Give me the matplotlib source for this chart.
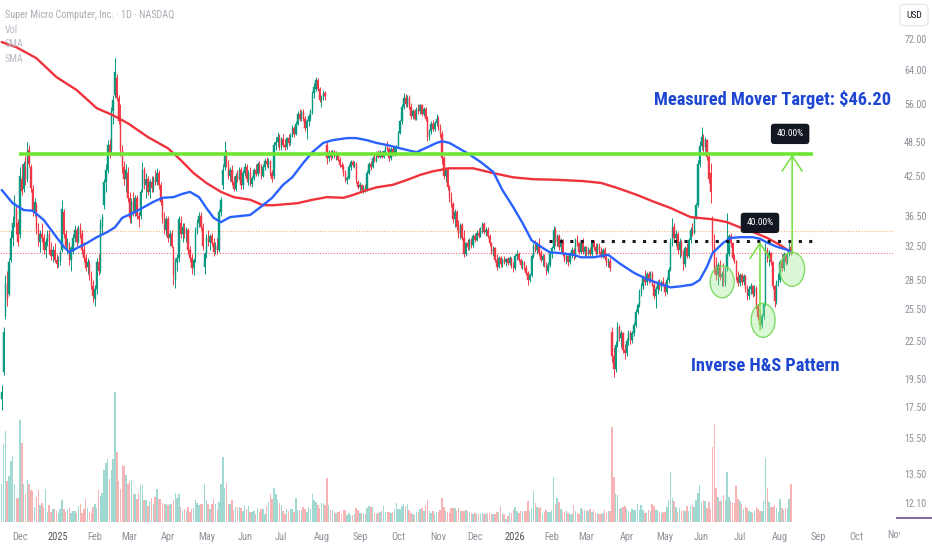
import numpy as np
import matplotlib
matplotlib.use("Agg")
import matplotlib.pyplot as plt
from matplotlib import font_manager as fm
from matplotlib.patches import Ellipse, Rectangle
from matplotlib.lines import Line2D
from matplotlib.ticker import NullLocator, NullFormatter
from matplotlib.transforms import ScaledTranslation


def pick_font(names):
    for n in names:
        try:
            fm.findfont(fm.FontProperties(family=n), fallback_to_default=False)
            return n
        except Exception:
            pass
    return "DejaVu Sans"


NARROW = pick_font(["Liberation Sans Narrow", "Roboto Condensed", "Open Sans Condensed", "Liberation Sans"])
plt.rcParams["font.family"] = [NARROW, "DejaVu Sans"]

# ---- daily candles (one per trading day, left to right) ----
opens = [
    18.0, 20.0, 24.8, 28.0, 27.0, 30.8, 33.5, 36.0, 37.5, 35.5,
    34.0, 42.0, 40.5, 44.0, 42.0, 47.0, 44.0, 40.5, 37.0, 38.0,
    34.5, 33.0, 34.0, 33.5, 32.0, 33.0, 34.0, 32.0, 31.2, 32.0,
    30.8, 30.5, 30.6, 32.0, 37.0, 34.0, 32.5, 32.5, 30.8, 32.0,
    33.5, 34.5, 33.0, 34.8, 34.0, 32.0, 31.0, 30.0, 30.3, 28.8,
    27.8, 26.5, 27.5, 30.5, 29.5, 35.0, 38.0, 41.5, 43.5, 48.0,
    47.0, 54.5, 58.0, 62.0, 57.5, 53.0, 47.0, 44.0, 42.0, 43.0,
    39.0, 36.5, 38.5, 37.0, 39.0, 36.5, 36.5, 40.5, 43.5, 41.0,
    42.0, 40.0, 41.5, 40.5, 42.0, 41.5, 43.0, 41.0, 38.5, 36.0,
    34.5, 36.0, 33.5, 34.0, 32.0, 28.5, 30.5, 31.0, 35.5, 34.0,
    35.0, 34.0, 34.5, 32.0, 31.0, 29.8, 31.0, 34.5, 35.5, 36.5,
    35.0, 30.0, 31.5, 33.5, 33.0, 33.8, 32.8, 32.0, 32.5, 32.0,
    37.0, 41.0, 44.0, 46.5, 44.5, 42.5, 43.5, 41.5, 40.5, 42.5,
    42.0, 43.5, 41.0, 43.0, 44.0, 42.0, 43.0, 41.3, 42.2, 43.5,
    42.8, 44.5, 43.5, 42.5, 44.0, 45.0, 44.5, 45.0, 43.0, 42.5,
    48.0, 48.5, 49.5, 47.5, 49.0, 48.0, 47.5, 49.2, 48.3, 49.8,
    51.2, 50.0, 52.0, 54.0, 53.0, 54.3, 53.0, 51.2, 52.5, 53.0,
    54.5, 58.5, 59.5, 61.5, 59.5, 57.0, 57.5, 58.5, 48.0, 45.5,
    46.5, 45.8, 46.8, 46.0, 46.3, 45.3, 44.3, 44.0, 43.0, 41.8,
    42.2, 44.0, 44.8, 44.3, 44.6, 41.5, 40.8, 41.0, 40.3, 40.7,
    40.5, 43.0, 44.5, 44.0, 45.5, 45.0, 46.3, 45.8, 46.6, 45.8,
    46.8, 47.5, 47.2, 45.5, 47.2, 46.3, 47.3, 47.8, 50.2, 52.5,
    55.5, 57.5, 56.0, 57.5, 55.5, 53.5, 54.5, 53.0, 55.0, 54.5,
    55.8, 54.0, 55.0, 53.0, 49.5, 50.5, 52.0, 51.0, 52.2, 53.0,
    51.2, 50.0, 45.5, 42.5, 43.5, 40.8, 39.0, 38.2, 36.0, 37.0,
    35.0, 34.0, 35.2, 33.5, 31.5, 32.8, 32.3, 33.2, 32.6, 33.8,
    33.3, 34.2, 33.8, 34.8, 35.3, 34.3, 34.6, 33.8, 32.8, 31.8,
    32.2, 30.8, 30.0, 31.0, 30.3, 30.8, 30.5, 30.9, 30.4, 31.0,
    30.0, 29.8, 31.2, 31.5, 30.8, 30.2, 30.5, 29.9, 29.3, 28.5,
    29.0, 31.2, 32.5, 32.0, 32.7, 31.6, 30.8, 31.3, 30.3, 29.5,
    30.2, 31.5, 32.2, 34.5, 33.0, 33.7, 32.3, 33.2, 31.5, 30.8,
    31.2, 30.5, 31.5, 32.0, 31.2, 33.2, 32.8, 31.8, 32.9, 31.8,
    32.3, 31.6, 32.0, 31.5, 32.8, 32.3, 31.7, 32.5, 31.8, 31.3,
    32.0, 31.0, 30.4, 30.7, 23.3, 21.3, 20.2, 22.2, 23.8, 22.8,
    23.2, 21.8, 21.5, 22.5, 23.2, 22.6, 23.2, 24.0, 25.2, 25.9,
    27.2, 27.8, 28.7, 28.3, 29.2, 28.5, 29.3, 28.0, 26.8, 27.5,
    28.2, 27.7, 28.3, 28.0, 27.2, 28.5, 29.6, 33.0, 35.0, 33.5,
    34.0, 32.0, 33.0, 31.5, 30.3, 32.2, 31.3, 33.2, 34.6, 34.2,
    36.2, 38.0, 44.5, 47.8, 49.0, 47.5, 48.8, 45.8, 43.0, 36.0,
    32.5, 30.0, 29.0, 30.2, 28.8, 29.2, 28.2, 29.8, 31.5, 33.8,
    32.8, 31.0, 30.6, 28.8, 28.2, 29.0, 28.3, 28.9, 27.5, 26.8,
    27.5, 27.8, 27.0, 27.6, 25.8, 24.7, 24.0, 24.8, 26.0, 32.0,
    31.0, 31.6, 30.5, 27.8, 26.3, 28.2, 28.5, 30.5, 29.8, 31.5,
    30.5, 31.5, 32.4,
]
highs = [
    19.0, 23.8, 29.0, 29.5, 31.0, 34.5, 36.5, 39.5, 38.0, 36.0,
    44.0, 44.5, 45.0, 46.0, 48.5, 48.0, 44.5, 41.0, 39.0, 38.5,
    35.5, 34.5, 35.5, 34.0, 33.5, 34.5, 34.5, 33.0, 32.5, 32.8,
    31.5, 31.2, 32.0, 38.8, 37.5, 34.5, 33.5, 33.0, 32.5, 34.0,
    35.2, 35.0, 35.2, 35.5, 34.5, 33.0, 31.5, 31.0, 30.8, 29.5,
    28.5, 28.0, 31.0, 31.5, 36.0, 36.8, 42.0, 44.5, 48.8, 49.0,
    55.5, 58.0, 66.9, 63.0, 58.0, 56.0, 48.0, 45.0, 44.5, 44.0,
    40.0, 39.0, 40.0, 39.5, 39.5, 37.0, 40.5, 44.8, 44.0, 43.0,
    42.5, 42.0, 42.5, 42.5, 43.5, 43.8, 43.5, 41.5, 39.0, 37.0,
    36.5, 36.5, 34.5, 34.5, 32.5, 31.0, 31.5, 36.5, 36.5, 35.5,
    35.5, 35.0, 34.8, 32.5, 31.5, 31.0, 35.0, 36.0, 37.0, 37.0,
    35.5, 31.8, 34.0, 34.5, 34.0, 34.2, 33.5, 33.0, 33.5, 37.5,
    39.2, 44.5, 48.6, 47.0, 45.2, 44.0, 44.4, 42.5, 43.0, 43.5,
    44.0, 44.0, 43.5, 44.7, 44.5, 43.5, 44.0, 42.5, 43.8, 44.5,
    44.8, 45.0, 44.5, 44.5, 45.5, 45.8, 45.5, 45.3, 43.5, 48.5,
    49.5, 50.3, 50.0, 49.5, 50.0, 49.0, 49.5, 50.0, 50.2, 51.8,
    51.5, 52.5, 54.5, 55.0, 54.8, 55.0, 53.5, 53.0, 54.0, 55.0,
    59.0, 60.7, 62.3, 62.0, 60.0, 58.0, 59.2, 59.0, 48.5, 47.0,
    47.0, 47.0, 47.0, 46.8, 46.5, 45.8, 44.8, 44.5, 43.5, 42.5,
    44.5, 45.2, 45.2, 45.0, 44.8, 41.8, 41.5, 41.3, 41.0, 41.2,
    43.5, 44.8, 45.0, 46.0, 46.5, 46.8, 47.0, 47.0, 46.9, 47.0,
    48.0, 48.6, 47.5, 47.5, 47.5, 47.5, 48.0, 50.5, 52.7, 56.0,
    58.6, 58.2, 58.0, 58.0, 56.4, 55.0, 55.0, 55.5, 56.0, 56.1,
    56.0, 55.5, 55.5, 53.5, 51.0, 52.5, 52.7, 52.5, 53.9, 53.5,
    52.0, 50.5, 46.0, 44.0, 44.0, 41.0, 40.0, 38.5, 37.5, 37.3,
    35.9, 35.5, 35.5, 34.5, 33.0, 33.4, 33.5, 33.5, 34.0, 34.2,
    34.5, 34.8, 35.0, 35.6, 35.6, 35.0, 35.0, 34.0, 33.0, 32.5,
    32.4, 31.5, 31.2, 31.3, 31.0, 31.3, 31.0, 31.1, 31.2, 31.1,
    30.5, 31.5, 32.0, 31.8, 31.0, 30.8, 30.7, 30.2, 29.5, 29.3,
    31.5, 32.8, 33.2, 33.0, 33.5, 32.0, 31.5, 31.5, 30.5, 30.5,
    31.8, 32.5, 35.1, 35.0, 34.0, 34.0, 33.5, 33.4, 31.8, 31.5,
    31.4, 31.8, 32.3, 32.2, 33.5, 33.9, 33.0, 33.2, 33.5, 32.5,
    32.5, 32.3, 32.3, 33.0, 33.2, 32.8, 32.8, 32.8, 32.3, 32.2,
    32.3, 31.5, 31.0, 31.0, 23.8, 22.0, 22.5, 24.2, 24.0, 23.5,
    23.3, 22.3, 22.8, 23.5, 23.5, 23.4, 24.2, 25.5, 26.1, 27.5,
    28.2, 29.0, 29.6, 29.4, 29.5, 29.5, 29.5, 28.3, 27.8, 28.5,
    28.6, 28.5, 28.8, 28.3, 28.8, 30.0, 33.5, 36.2, 35.5, 34.5,
    34.3, 33.5, 33.3, 32.0, 32.5, 32.8, 33.5, 35.0, 35.5, 36.5,
    38.3, 45.2, 48.6, 51.4, 50.0, 49.4, 49.0, 46.2, 44.7, 36.5,
    34.0, 31.1, 30.5, 30.8, 29.5, 30.4, 30.0, 36.9, 34.0, 34.2,
    33.0, 31.5, 30.8, 29.5, 29.3, 29.3, 29.2, 29.0, 28.0, 27.8,
    28.2, 28.0, 28.0, 27.8, 26.0, 25.4, 25.0, 26.2, 32.8, 32.4,
    32.0, 31.8, 30.6, 28.0, 28.5, 29.3, 30.8, 31.5, 31.8, 31.6,
    31.8, 33.0, 32.8,
]
lows = [
    17.3, 19.8, 24.5, 25.8, 26.8, 30.5, 32.5, 35.0, 34.0, 32.5,
    33.5, 39.5, 40.0, 41.0, 41.5, 44.0, 40.0, 36.5, 36.5, 34.0,
    32.5, 31.8, 33.0, 31.5, 31.0, 32.5, 31.5, 30.8, 30.5, 30.5,
    29.8, 30.0, 30.2, 31.8, 33.5, 32.0, 31.5, 30.2, 29.5, 31.5,
    33.0, 32.5, 32.8, 33.5, 31.5, 30.5, 29.5, 29.2, 28.5, 27.5,
    26.2, 25.8, 27.0, 29.0, 29.3, 34.0, 37.5, 40.0, 43.0, 45.5,
    46.5, 52.0, 57.5, 56.8, 52.0, 46.0, 43.0, 41.0, 40.0, 38.5,
    35.5, 35.5, 36.5, 36.5, 36.0, 35.0, 36.0, 40.0, 40.5, 39.0,
    39.5, 39.0, 40.0, 40.0, 41.0, 41.0, 40.5, 38.0, 35.5, 34.0,
    33.8, 33.0, 32.5, 32.2, 28.0, 27.6, 29.5, 30.5, 33.5, 33.0,
    33.5, 33.0, 31.5, 30.5, 29.2, 29.0, 30.5, 34.0, 35.0, 34.5,
    32.0, 29.2, 31.0, 32.5, 32.0, 32.5, 31.3, 31.5, 31.5, 31.8,
    36.5, 40.5, 43.5, 44.0, 42.0, 41.7, 41.0, 40.1, 40.2, 41.5,
    41.8, 40.5, 40.5, 42.5, 41.5, 41.0, 40.9, 40.8, 41.8, 42.5,
    42.5, 43.0, 42.0, 42.3, 43.5, 44.0, 43.8, 42.5, 41.5, 42.0,
    47.0, 47.5, 47.0, 47.0, 47.5, 47.0, 47.2, 47.8, 48.0, 49.5,
    49.5, 49.8, 51.8, 52.5, 52.5, 52.5, 50.5, 49.0, 51.5, 52.5,
    54.0, 57.5, 59.0, 59.0, 56.5, 55.5, 57.0, 57.0, 44.5, 45.0,
    45.2, 45.5, 45.5, 45.3, 45.0, 44.0, 43.6, 42.5, 41.5, 41.2,
    42.0, 43.5, 44.0, 43.8, 41.4, 40.5, 40.0, 40.0, 39.9, 40.0,
    40.2, 42.8, 43.5, 43.8, 44.8, 44.8, 45.5, 45.5, 45.5, 45.6,
    46.5, 46.8, 45.0, 45.2, 46.0, 46.0, 46.5, 47.5, 50.0, 52.0,
    55.0, 55.5, 55.5, 55.0, 53.0, 53.0, 52.7, 52.8, 54.0, 54.0,
    53.5, 53.5, 52.5, 48.6, 48.8, 50.0, 50.5, 50.5, 51.5, 50.8,
    49.5, 44.5, 42.0, 41.5, 40.3, 38.5, 37.7, 35.5, 35.0, 34.5,
    33.5, 33.4, 33.2, 31.1, 31.2, 32.0, 32.0, 32.2, 32.4, 33.0,
    33.1, 33.5, 33.6, 34.2, 34.0, 33.8, 33.5, 32.5, 31.5, 31.3,
    30.5, 29.6, 29.8, 30.0, 30.0, 30.3, 30.1, 30.2, 30.2, 29.8,
    29.4, 29.6, 30.8, 30.5, 29.8, 29.7, 29.6, 29.0, 28.0, 28.3,
    28.8, 31.0, 31.8, 31.5, 31.3, 30.5, 30.1, 30.0, 29.1, 29.3,
    30.0, 31.0, 32.0, 32.5, 32.5, 32.0, 31.8, 31.3, 30.5, 30.3,
    30.1, 30.3, 31.0, 30.8, 31.0, 32.5, 31.5, 31.5, 31.5, 31.3,
    31.3, 31.4, 31.3, 31.3, 32.0, 31.4, 31.5, 31.5, 31.0, 31.0,
    30.8, 30.1, 30.0, 29.5, 20.8, 19.6, 20.0, 22.0, 22.5, 22.0,
    21.5, 21.0, 21.3, 22.2, 22.3, 22.4, 23.0, 23.8, 25.0, 25.7,
    26.8, 27.5, 28.0, 28.0, 28.2, 28.3, 27.8, 26.5, 25.6, 27.0,
    27.4, 27.3, 27.8, 26.8, 27.0, 28.2, 29.5, 32.5, 33.0, 32.5,
    31.5, 31.0, 31.2, 29.6, 30.0, 31.0, 31.0, 32.8, 33.8, 34.0,
    36.0, 37.8, 44.0, 47.0, 46.5, 46.8, 45.2, 41.4, 38.3, 31.5,
    29.3, 28.5, 28.0, 28.5, 27.9, 27.8, 27.8, 29.5, 31.2, 32.4,
    30.8, 30.4, 28.5, 27.8, 27.8, 28.0, 28.0, 27.2, 26.4, 26.5,
    27.0, 26.7, 26.8, 25.5, 24.4, 23.6, 23.7, 24.5, 25.8, 30.5,
    30.1, 30.2, 27.5, 25.7, 26.0, 27.8, 28.3, 29.5, 29.5, 30.2,
    30.3, 31.2, 31.4,
]
closes = [
    18.5, 23.3, 28.2, 26.5, 30.5, 33.5, 35.5, 38.5, 35.0, 33.0,
    42.5, 40.2, 44.5, 41.8, 46.8, 44.6, 40.6, 37.2, 38.5, 34.6,
    33.2, 34.0, 33.5, 32.0, 33.0, 34.0, 31.8, 31.2, 32.0, 30.8,
    30.3, 30.6, 31.8, 37.5, 34.0, 32.5, 33.0, 30.8, 32.2, 33.5,
    34.5, 33.0, 34.8, 34.0, 32.0, 31.0, 29.8, 30.5, 28.8, 27.8,
    26.8, 27.5, 30.5, 29.5, 35.5, 36.3, 41.5, 43.5, 48.0, 46.5,
    54.5, 57.0, 63.5, 57.5, 52.5, 47.0, 44.0, 42.0, 43.5, 39.0,
    36.2, 38.5, 37.0, 39.0, 36.5, 36.0, 40.0, 43.5, 41.2, 42.0,
    40.0, 41.5, 40.6, 42.0, 41.5, 43.0, 41.0, 38.5, 36.0, 34.5,
    36.0, 33.5, 34.0, 32.5, 29.0, 30.5, 31.0, 36.0, 34.0, 35.0,
    34.0, 34.5, 32.0, 31.0, 29.8, 30.8, 34.5, 35.5, 36.5, 35.0,
    32.5, 31.5, 33.5, 33.0, 33.8, 32.8, 31.8, 32.5, 32.0, 37.0,
    38.8, 43.5, 46.5, 44.5, 42.5, 43.5, 41.5, 40.5, 42.5, 42.0,
    43.5, 41.0, 43.0, 44.0, 42.0, 43.0, 41.3, 42.2, 43.5, 42.8,
    44.5, 43.5, 42.5, 44.0, 45.0, 44.5, 45.0, 43.0, 42.0, 48.0,
    48.5, 49.5, 47.5, 49.0, 48.0, 47.5, 49.2, 48.3, 49.8, 51.2,
    50.0, 52.0, 54.0, 53.0, 54.3, 53.0, 51.2, 52.5, 53.5, 54.5,
    58.5, 60.0, 61.5, 59.5, 57.0, 57.5, 58.5, 57.8, 45.5, 46.5,
    45.8, 46.8, 46.0, 46.3, 45.3, 44.3, 44.0, 43.0, 41.8, 42.2,
    44.0, 44.8, 44.3, 44.6, 41.8, 40.8, 41.0, 40.3, 40.7, 40.5,
    43.0, 44.5, 44.0, 45.5, 45.0, 46.3, 45.8, 46.6, 45.8, 46.8,
    47.5, 47.2, 45.5, 47.2, 46.3, 47.3, 47.8, 50.2, 52.5, 55.5,
    57.5, 56.0, 57.5, 55.5, 53.5, 54.5, 53.0, 55.0, 54.5, 55.8,
    54.0, 55.0, 53.0, 49.5, 50.5, 52.0, 51.0, 52.2, 53.0, 51.2,
    50.0, 45.5, 42.5, 43.5, 40.8, 39.0, 38.2, 36.0, 37.0, 35.0,
    34.0, 35.2, 33.5, 31.5, 32.8, 32.3, 33.2, 32.6, 33.8, 33.3,
    34.2, 33.8, 34.8, 35.3, 34.3, 34.6, 33.8, 32.8, 31.8, 32.2,
    30.8, 30.0, 31.0, 30.3, 30.8, 30.5, 30.9, 30.4, 31.0, 30.0,
    29.8, 31.2, 31.5, 30.8, 30.2, 30.5, 29.9, 29.3, 28.5, 29.0,
    31.2, 32.5, 32.0, 32.7, 31.6, 30.8, 31.3, 30.3, 29.5, 30.2,
    31.5, 32.2, 34.5, 33.0, 33.7, 32.3, 33.2, 31.5, 30.8, 31.2,
    30.5, 31.5, 32.0, 31.2, 33.2, 32.8, 31.8, 32.9, 31.8, 32.3,
    31.6, 32.0, 31.5, 32.8, 32.3, 31.7, 32.5, 31.8, 31.3, 32.0,
    31.0, 30.4, 30.7, 29.8, 21.3, 20.2, 22.2, 23.8, 22.8, 23.2,
    21.8, 21.5, 22.5, 23.2, 22.6, 23.2, 24.0, 25.2, 25.9, 27.2,
    27.8, 28.7, 28.3, 29.2, 28.5, 29.3, 28.0, 26.8, 27.5, 28.2,
    27.7, 28.3, 28.0, 27.2, 28.5, 29.6, 33.0, 35.0, 33.5, 34.0,
    32.0, 33.0, 31.5, 30.3, 32.2, 31.3, 33.2, 34.6, 34.2, 36.2,
    38.0, 44.5, 47.8, 49.5, 47.5, 48.8, 45.8, 42.0, 40.0, 32.5,
    30.0, 29.0, 30.2, 28.8, 29.2, 28.2, 29.8, 31.5, 33.8, 32.8,
    31.0, 30.6, 28.8, 28.2, 29.0, 28.3, 28.9, 27.5, 26.8, 27.5,
    27.8, 27.0, 27.6, 25.8, 24.7, 24.0, 24.8, 26.0, 32.0, 31.0,
    31.6, 30.5, 27.8, 26.3, 28.2, 28.5, 30.5, 29.8, 31.5, 30.5,
    31.5, 32.4, 31.65,
]
volume_m = [
    38, 78, 91, 41, 46, 61, 66, 38, 24, 24,
    102, 79, 38, 28, 42, 38, 32, 31, 15, 25,
    32, 17, 19, 15, 33, 10, 17, 10, 13, 13,
    11, 9, 13, 22, 13, 10, 12, 14, 9, 11,
    11, 9, 16, 18, 9, 13, 23, 14, 10, 9,
    15, 18, 14, 32, 26, 29, 52, 59, 63, 43,
    52, 63, 130, 70, 41, 33, 57, 56, 47, 38,
    41, 42, 28, 28, 23, 29, 37, 36, 22, 22,
    16, 21, 24, 18, 25, 33, 23, 23, 19, 18,
    18, 17, 18, 18, 22, 29, 24, 28, 15, 11,
    13, 11, 15, 10, 13, 14, 22, 19, 17, 18,
    18, 38, 22, 18, 13, 18, 23, 18, 12, 20,
    38, 65, 34, 39, 18, 18, 22, 12, 15, 15,
    15, 14, 11, 17, 13, 16, 10, 10, 11, 8,
    14, 10, 13, 13, 8, 16, 20, 28, 23, 34,
    28, 22, 19, 17, 11, 8, 13, 11, 13, 13,
    10, 24, 12, 12, 12, 15, 13, 10, 15, 13,
    28, 22, 20, 17, 14, 19, 19, 17, 44, 17,
    12, 12, 10, 9, 10, 11, 8, 12, 12, 7,
    9, 7, 7, 8, 14, 12, 9, 9, 9, 8,
    14, 16, 15, 15, 9, 8, 9, 10, 11, 16,
    10, 10, 10, 9, 10, 13, 19, 13, 13, 16,
    18, 16, 18, 12, 9, 8, 7, 10, 10, 13,
    14, 11, 16, 22, 11, 9, 11, 8, 10, 10,
    12, 24, 15, 11, 10, 9, 14, 14, 14, 11,
    14, 11, 11, 11, 12, 11, 10, 9, 8, 9,
    8, 8, 8, 9, 8, 8, 9, 9, 8, 8,
    8, 10, 10, 16, 8, 8, 3, 6, 9, 9,
    12, 15, 11, 9, 11, 11, 11, 11, 21, 11,
    14, 31, 19, 15, 14, 15, 8, 10, 12, 10,
    10, 12, 45, 18, 24, 20, 13, 11, 10, 11,
    9, 8, 8, 17, 11, 9, 8, 14, 12, 12,
    12, 11, 13, 10, 12, 9, 9, 8, 8, 9,
    12, 9, 11, 11, 95, 45, 28, 27, 13, 14,
    15, 16, 13, 11, 10, 13, 12, 12, 18, 12,
    17, 12, 9, 9, 12, 11, 18, 16, 12, 12,
    10, 9, 10, 10, 15, 22, 50, 24, 21, 15,
    10, 14, 11, 12, 11, 16, 11, 16, 17, 15,
    22, 29, 37, 20, 22, 21, 14, 20, 13, 75,
    98, 34, 25, 21, 22, 27, 22, 50, 25, 21,
    19, 19, 36, 23, 21, 18, 13, 16, 14, 11,
    10, 9, 11, 15, 13, 11, 11, 21, 64, 34,
    20, 15, 15, 17, 14, 10, 23, 14, 12, 14,
    14, 23, 38,
]

# ---- moving averages (bar index, price) ----
sma50_idx = [0, 6, 12, 17, 23, 26, 30, 34, 37, 41, 47, 52, 58, 62, 66, 72, 77, 83, 88, 94,
             99, 103, 108, 112, 116, 120, 125, 136, 143, 148, 154, 159, 165, 170, 176, 181,
             189, 194, 200, 205, 211, 218, 227, 233, 238, 241, 245, 255, 262, 269, 274, 280,
             285, 290, 295, 300, 306, 313, 317, 324, 332, 338, 346, 353, 360, 366, 371, 378,
             382, 386, 389, 395, 399, 404, 411, 415, 419, 424, 430, 432]
sma50_val = [40.3, 38.3, 37.3, 37.2, 35.9, 34.9, 33.6, 32.4, 31.7, 32.2, 32.9, 33.6, 34.3, 34.9,
             36.2, 36.9, 37.6, 38.5, 39.1, 39.2, 39.7, 40.0, 39.2, 37.6, 36.2, 35.6, 36.3, 36.6,
             38.0, 39.1, 41.1, 42.3, 44.7, 46.6, 48.3, 48.8, 49.2, 49.2, 48.8, 48.3, 47.9, 47.3,
             46.6, 47.5, 48.3, 48.6, 48.3, 46.4, 44.9, 43.2, 40.3, 37.7, 35.5, 33.2, 32.4, 31.7,
             31.6, 31.4, 31.1, 31.1, 31.4, 30.4, 29.3, 28.6, 28.1, 27.7, 27.8, 28.0, 28.5, 30.0,
             31.6, 32.9, 33.5, 33.6, 33.6, 33.4, 32.9, 32.4, 32.0, 31.7]
sma200_idx = [0, 8, 19, 30, 41, 52, 61, 69, 80, 91, 98, 105, 112, 120, 127, 136, 143, 149, 162,
              170, 178, 187, 192, 198, 205, 214, 222, 229, 236, 245, 251, 258, 269, 280, 291,
              304, 318, 328, 337, 348, 357, 366, 377, 389, 397, 404, 411, 419, 426, 432]
sma200_val = [71.2, 69.8, 66.9, 62.2, 59.2, 55.2, 53.7, 52.1, 49.4, 47.3, 45.2, 43.0, 41.4, 40.0,
              39.2, 38.8, 38.0, 38.0, 38.3, 38.8, 39.2, 39.1, 39.5, 40.1, 40.7, 41.1, 41.9, 42.7,
              43.3, 43.8, 43.8, 43.8, 43.0, 42.3, 42.0, 41.9, 41.7, 41.4, 40.6, 39.5, 38.5, 37.6,
              36.3, 36.0, 35.6, 34.9, 34.3, 33.5, 32.6, 31.7]

# ---- axis labels ----
month_labels = ["Dec", "2025", "Feb", "Mar", "Apr", "May", "Jun", "Jul", "Aug", "Sep", "Oct", "Nov",
                "Dec", "2026", "Feb", "Mar", "Apr", "May", "Jun", "Jul", "Aug", "Sep", "Oct"]
month_idx = [10, 31, 51, 70, 91, 112, 133, 153, 175, 196, 217, 239,
             259, 281, 301, 320, 342, 363, 383, 404, 426, 447, 468]
price_ticks = [72.0, 64.0, 56.0, 48.5, 42.5, 36.5, 32.5, 28.5, 25.5, 22.5, 19.5, 17.5, 15.5, 13.5, 12.1]

# ---- drawn levels / pattern ----
target_price = 46.2
neckline = 33.07
prev_close_line = 34.44
last_price = 31.65
move_pct = "40.00%"

W, H = 932, 550
UP, DOWN = "#089981", "#f23645"
GREEN = "#6fe534"


def px(x, y):
    return x / W, 1 - y / H


o = np.array(opens)
hi = np.array(highs)
lo = np.array(lows)
c = np.array(closes)
vol = np.array(volume_m)
idx = np.arange(len(c))
up = c >= o
cols = np.where(up, UP, DOWN)

fig = plt.figure(figsize=(W / 100, H / 100), dpi=100)
rect = [0, 28 / H, 893 / W, 522 / H]
axv = fig.add_axes(rect, zorder=0)
ax = fig.add_axes(rect, zorder=1)
ax.patch.set_visible(False)

xlim = (-0.93, 487.8)

# volume pane (overlay at the bottom)
vcols = np.where(up, "#9fd9d1", "#f8b3b5")
axv.bar(idx, vol, width=0.8, color=vcols, linewidth=0)
axv.set_xlim(*xlim)
axv.set_ylim(0, 522)
axv.axis("off")

# candles
ax.vlines(idx, lo, hi, colors=cols, lw=0.7, zorder=2)
ax.bar(idx, np.abs(c - o), bottom=np.minimum(o, c), width=0.72, color=cols,
       edgecolor=cols, linewidth=0.3, zorder=2)

# moving averages
ax.plot(sma200_idx, sma200_val, color="#f0323c", lw=1.7, zorder=3, solid_capstyle="round")
ax.plot(sma50_idx, sma50_val, color="#2962ff", lw=1.7, zorder=3, solid_capstyle="round")

# price lines
ax.axhline(prev_close_line, color="#f8b26a", lw=0.8, ls=(0, (1, 1.5)), zorder=1)
ax.axhline(last_price, color="#f07078", lw=0.8, ls=(0, (1, 1.5)), zorder=1)

# drawings
ax.hlines(target_price, 9.5, 444.1, colors=GREEN, lw=2.6, zorder=4)
ax.hlines(neckline, 299.6, 443.5, colors="#131722", lw=2.2, linestyles=(0, (1, 2.4)), zorder=4)

arrow_style = "->,head_length=0.55,head_width=0.36"
ax.annotate("", xy=(415.0, 33.0), xytext=(415.0, 23.5),
            arrowprops=dict(arrowstyle=arrow_style, color="#72e03c", lw=1.1,
                            mutation_scale=20, shrinkA=0, shrinkB=0), zorder=5)
ax.annotate("", xy=(432.6, target_price), xytext=(432.6, 31.5),
            arrowprops=dict(arrowstyle=arrow_style, color="#72e03c", lw=1.1,
                            mutation_scale=20, shrinkA=0, shrinkB=0), zorder=5)

box = dict(boxstyle="round,pad=0.6,rounding_size=0.35", fc="#131722", ec="none")
ax.text(415.0, 35.5, move_pct, color="white", fontsize=6.8, ha="center", va="center",
        bbox=box, zorder=6)
ax.text(431.5, 50.0, move_pct, color="white", fontsize=6.8, ha="center", va="center",
        bbox=box, zorder=6)

# shoulders / head
for (ci, cp, w, h) in [(394.3, 28.3, 0.24, 0.32), (416.7, 24.4, 0.24, 0.34), (432.6, 29.7, 0.25, 0.34)]:
    tr = fig.dpi_scale_trans + ScaledTranslation(ci, cp, ax.transData)
    e = Ellipse((0, 0), w, h, transform=tr, facecolor=(0.60, 0.92, 0.55, 0.35),
                edgecolor=(0.45, 0.85, 0.35, 0.9), lw=1.0, zorder=5)
    fig.add_artist(e)

ax.text(421.6, 57.0, "Measured Mover Target: $46.20", color="#1d46d1", fontsize=13.2,
        fontweight="bold", ha="center", va="center", zorder=6)
ax.text(418.1, 20.5, "Inverse H&S Pattern", color="#1d46d1", fontsize=13.2,
        fontweight="bold", ha="center", va="center", zorder=6)

# axes styling
ax.set_xlim(*xlim)
ax.set_yscale("log")
ax.set_ylim(11.23, 83.7)
ax.yaxis.set_minor_locator(NullLocator())
ax.yaxis.set_minor_formatter(NullFormatter())
ax.set_yticks(price_ticks, [f"{t:.2f}" for t in price_ticks])
ax.yaxis.tick_right()
ax.tick_params(axis="y", length=0, pad=8, labelsize=7.2, labelcolor="#8d9099")
ax.set_xticks(month_idx, month_labels)
ax.tick_params(axis="x", length=0, pad=7, labelsize=7.5, labelcolor="#8d9099")
for lab in ax.get_xticklabels():
    if lab.get_text() in ("2025", "2026"):
        lab.set_color("#50535e")
for s in ax.spines.values():
    s.set_visible(False)

# last month label, cut off by the price scale
t = fig.text(*px(895, 535), "Nov", ha="center", va="center", fontsize=7.5, color="#8d9099")
t.set_clip_path(Rectangle((0, 0), 900 / W, 1, transform=fig.transFigure))

# header / legend
fig.text(*px(5, 15), "Super Micro Computer, Inc. \u00b7 1D \u00b7 NASDAQ", ha="left", va="center",
         fontsize=7.3, color="#a9acb4")
fig.text(*px(5, 30), "Vol", ha="left", va="center", fontsize=7.3, color="#b8bbc2")
fig.text(*px(5, 44), "SMA", ha="left", va="center", fontsize=7.3, color="#b8bbc2")
fig.text(*px(5, 59), "SMA", ha="left", va="center", fontsize=7.3, color="#b8bbc2")

fig.text(*px(914, 15), "USD", ha="center", va="center", fontsize=6.8, color="#131722",
         bbox=dict(boxstyle="round,pad=0.65,rounding_size=0.4", fc="white", ec="#e0e3eb", lw=0.8))
fig.add_artist(Line2D([897 / W, 1.0], [1 - 518 / H, 1 - 518 / H], color="#7e5a9b", lw=1.3,
                      transform=fig.transFigure))

fig.savefig("out.png", dpi=100)
